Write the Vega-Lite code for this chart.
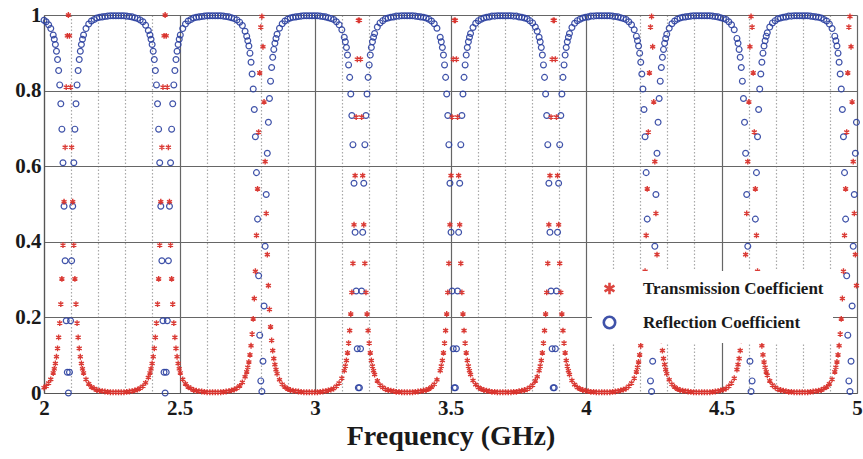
{
"$schema": "https://vega.github.io/schema/vega-lite/v6.json",
"width": 813, "height": 378,
"autosize": {"type": "none"},
"padding": {"left": 44, "top": 15, "right": 6, "bottom": 66},
"background": "white",
"config": {"view": {"stroke": null}, "font": "Liberation Serif"},
"data": {"values": [
{"f":2,"t":0.014,"r":0.986},{"f":2.008,"t":0.018,"r":0.982},{"f":2.017,"t":0.026,"r":0.974},{"f":2.025,"t":0.036,"r":0.964},
{"f":2.034,"t":0.053,"r":0.947},{"f":2.038,"t":0.064,"r":0.936},{"f":2.042,"t":0.078,"r":0.922},{"f":2.046,"t":0.096,"r":0.904},{"f":2.05,"t":0.118,"r":0.882},{"f":2.054,"t":0.147,"r":0.853},{"f":2.058,"t":0.185,"r":0.815},{"f":2.062,"t":0.235,"r":0.765},{"f":2.066,"t":0.302,"r":0.698},{"f":2.07,"t":0.391,"r":0.609},{"f":2.074,"t":0.506,"r":0.494},{"f":2.078,"t":0.65,"r":0.35},{"f":2.082,"t":0.809,"r":0.191},{"f":2.086,"t":0.945,"r":0.055},{"f":2.09,"t":1,"r":0},{"f":2.094,"t":0.945,"r":0.055},{"f":2.098,"t":0.809,"r":0.191},{"f":2.102,"t":0.65,"r":0.35},{"f":2.106,"t":0.506,"r":0.494},{"f":2.11,"t":0.391,"r":0.609},{"f":2.114,"t":0.302,"r":0.698},{"f":2.118,"t":0.235,"r":0.765},{"f":2.122,"t":0.185,"r":0.815},{"f":2.126,"t":0.147,"r":0.853},{"f":2.13,"t":0.118,"r":0.882},{"f":2.134,"t":0.096,"r":0.904},{"f":2.138,"t":0.078,"r":0.922},{"f":2.142,"t":0.064,"r":0.936},{"f":2.146,"t":0.053,"r":0.947},
{"f":2.155,"t":0.036,"r":0.964},{"f":2.165,"t":0.024,"r":0.976},{"f":2.175,"t":0.016,"r":0.984},{"f":2.185,"t":0.012,"r":0.988},{"f":2.195,"t":0.008,"r":0.992},{"f":2.205,"t":0.006,"r":0.994},{"f":2.215,"t":0.005,"r":0.995},{"f":2.225,"t":0.004,"r":0.996},{"f":2.235,"t":0.003,"r":0.997},{"f":2.245,"t":0.002,"r":0.998},{"f":2.255,"t":0.002,"r":0.998},{"f":2.265,"t":0.002,"r":0.998},{"f":2.275,"t":0.002,"r":0.998},{"f":2.285,"t":0.002,"r":0.998},{"f":2.295,"t":0.002,"r":0.998},{"f":2.305,"t":0.003,"r":0.997},{"f":2.315,"t":0.004,"r":0.996},{"f":2.325,"t":0.005,"r":0.995},{"f":2.335,"t":0.007,"r":0.993},{"f":2.345,"t":0.009,"r":0.991},{"f":2.355,"t":0.013,"r":0.987},{"f":2.365,"t":0.018,"r":0.982},{"f":2.375,"t":0.027,"r":0.973},{"f":2.385,"t":0.041,"r":0.959},
{"f":2.391,"t":0.053,"r":0.947},{"f":2.395,"t":0.064,"r":0.936},{"f":2.399,"t":0.078,"r":0.922},{"f":2.403,"t":0.096,"r":0.904},{"f":2.407,"t":0.118,"r":0.882},{"f":2.411,"t":0.147,"r":0.853},{"f":2.415,"t":0.185,"r":0.815},{"f":2.419,"t":0.235,"r":0.765},{"f":2.423,"t":0.302,"r":0.698},{"f":2.427,"t":0.391,"r":0.609},{"f":2.431,"t":0.506,"r":0.494},{"f":2.435,"t":0.65,"r":0.35},{"f":2.439,"t":0.809,"r":0.191},{"f":2.443,"t":0.945,"r":0.055},{"f":2.447,"t":1,"r":0},{"f":2.451,"t":0.945,"r":0.055},{"f":2.455,"t":0.809,"r":0.191},{"f":2.459,"t":0.65,"r":0.35},{"f":2.463,"t":0.506,"r":0.494},{"f":2.467,"t":0.391,"r":0.609},{"f":2.471,"t":0.302,"r":0.698},{"f":2.475,"t":0.235,"r":0.765},{"f":2.479,"t":0.185,"r":0.815},{"f":2.483,"t":0.147,"r":0.853},{"f":2.487,"t":0.118,"r":0.882},{"f":2.491,"t":0.096,"r":0.904},{"f":2.495,"t":0.078,"r":0.922},{"f":2.499,"t":0.064,"r":0.936},{"f":2.503,"t":0.053,"r":0.947},
{"f":2.512,"t":0.036,"r":0.964},{"f":2.522,"t":0.024,"r":0.976},{"f":2.532,"t":0.016,"r":0.984},{"f":2.542,"t":0.012,"r":0.988},{"f":2.552,"t":0.008,"r":0.992},{"f":2.562,"t":0.006,"r":0.994},{"f":2.572,"t":0.005,"r":0.995},{"f":2.582,"t":0.004,"r":0.996},{"f":2.592,"t":0.003,"r":0.997},{"f":2.602,"t":0.002,"r":0.998},{"f":2.612,"t":0.002,"r":0.998},{"f":2.622,"t":0.002,"r":0.998},{"f":2.632,"t":0.002,"r":0.998},{"f":2.642,"t":0.002,"r":0.998},{"f":2.652,"t":0.002,"r":0.998},{"f":2.662,"t":0.003,"r":0.997},{"f":2.672,"t":0.004,"r":0.996},{"f":2.682,"t":0.005,"r":0.995},{"f":2.692,"t":0.007,"r":0.993},{"f":2.702,"t":0.009,"r":0.991},{"f":2.712,"t":0.013,"r":0.987},{"f":2.722,"t":0.019,"r":0.981},{"f":2.732,"t":0.028,"r":0.972},{"f":2.742,"t":0.043,"r":0.957},
{"f":2.748,"t":0.056,"r":0.944},{"f":2.752,"t":0.068,"r":0.932},{"f":2.756,"t":0.082,"r":0.918},{"f":2.76,"t":0.101,"r":0.899},{"f":2.764,"t":0.125,"r":0.875},{"f":2.768,"t":0.156,"r":0.844},{"f":2.772,"t":0.196,"r":0.804},{"f":2.776,"t":0.25,"r":0.75},{"f":2.78,"t":0.322,"r":0.678},{"f":2.784,"t":0.417,"r":0.583},{"f":2.788,"t":0.54,"r":0.46},{"f":2.792,"t":0.69,"r":0.31},{"f":2.796,"t":0.847,"r":0.153},{"f":2.8,"t":0.968,"r":0.032},{"f":2.804,"t":0.996,"r":0.004},{"f":2.808,"t":0.916,"r":0.084},{"f":2.812,"t":0.77,"r":0.23},{"f":2.816,"t":0.612,"r":0.388},{"f":2.82,"t":0.475,"r":0.525},{"f":2.824,"t":0.366,"r":0.634},{"f":2.828,"t":0.284,"r":0.716},{"f":2.832,"t":0.221,"r":0.779},{"f":2.836,"t":0.175,"r":0.825},{"f":2.84,"t":0.139,"r":0.861},{"f":2.844,"t":0.112,"r":0.888},{"f":2.848,"t":0.091,"r":0.909},{"f":2.852,"t":0.075,"r":0.925},{"f":2.856,"t":0.062,"r":0.938},{"f":2.86,"t":0.051,"r":0.949},
{"f":2.869,"t":0.035,"r":0.965},{"f":2.879,"t":0.023,"r":0.977},{"f":2.889,"t":0.016,"r":0.984},{"f":2.899,"t":0.011,"r":0.989},{"f":2.909,"t":0.008,"r":0.992},{"f":2.919,"t":0.006,"r":0.994},{"f":2.929,"t":0.005,"r":0.995},{"f":2.939,"t":0.004,"r":0.996},{"f":2.949,"t":0.003,"r":0.997},{"f":2.959,"t":0.002,"r":0.998},{"f":2.969,"t":0.002,"r":0.998},{"f":2.979,"t":0.002,"r":0.998},{"f":2.989,"t":0.002,"r":0.998},{"f":2.999,"t":0.002,"r":0.998},{"f":3.009,"t":0.002,"r":0.998},{"f":3.019,"t":0.003,"r":0.997},{"f":3.029,"t":0.004,"r":0.996},{"f":3.039,"t":0.005,"r":0.995},{"f":3.049,"t":0.007,"r":0.993},{"f":3.059,"t":0.009,"r":0.991},{"f":3.069,"t":0.012,"r":0.988},{"f":3.079,"t":0.018,"r":0.982},{"f":3.089,"t":0.026,"r":0.974},{"f":3.099,"t":0.039,"r":0.961},
{"f":3.108,"t":0.059,"r":0.941},{"f":3.112,"t":0.071,"r":0.929},{"f":3.116,"t":0.086,"r":0.914},{"f":3.12,"t":0.106,"r":0.894},{"f":3.124,"t":0.132,"r":0.868},{"f":3.128,"t":0.165,"r":0.835},{"f":3.132,"t":0.209,"r":0.791},{"f":3.136,"t":0.266,"r":0.734},{"f":3.14,"t":0.343,"r":0.657},{"f":3.144,"t":0.445,"r":0.555},{"f":3.148,"t":0.575,"r":0.425},{"f":3.152,"t":0.73,"r":0.27},{"f":3.156,"t":0.883,"r":0.117},{"f":3.16,"t":0.986,"r":0.014},{"f":3.164,"t":0.986,"r":0.014},{"f":3.168,"t":0.883,"r":0.117},{"f":3.172,"t":0.73,"r":0.27},{"f":3.176,"t":0.575,"r":0.425},{"f":3.18,"t":0.445,"r":0.555},{"f":3.184,"t":0.343,"r":0.657},{"f":3.188,"t":0.266,"r":0.734},{"f":3.192,"t":0.209,"r":0.791},{"f":3.196,"t":0.165,"r":0.835},{"f":3.2,"t":0.132,"r":0.868},{"f":3.204,"t":0.106,"r":0.894},{"f":3.208,"t":0.086,"r":0.914},{"f":3.212,"t":0.071,"r":0.929},{"f":3.216,"t":0.059,"r":0.941},{"f":3.22,"t":0.049,"r":0.951},
{"f":3.23,"t":0.032,"r":0.968},{"f":3.24,"t":0.021,"r":0.979},{"f":3.25,"t":0.015,"r":0.985},{"f":3.26,"t":0.01,"r":0.99},{"f":3.27,"t":0.008,"r":0.992},{"f":3.28,"t":0.006,"r":0.994},{"f":3.29,"t":0.005,"r":0.995},{"f":3.3,"t":0.003,"r":0.997},{"f":3.31,"t":0.003,"r":0.997},{"f":3.32,"t":0.002,"r":0.998},{"f":3.33,"t":0.002,"r":0.998},{"f":3.34,"t":0.002,"r":0.998},{"f":3.35,"t":0.002,"r":0.998},{"f":3.36,"t":0.002,"r":0.998},{"f":3.37,"t":0.003,"r":0.997},{"f":3.38,"t":0.004,"r":0.996},{"f":3.39,"t":0.005,"r":0.995},{"f":3.4,"t":0.006,"r":0.994},{"f":3.41,"t":0.008,"r":0.992},{"f":3.42,"t":0.011,"r":0.989},{"f":3.43,"t":0.016,"r":0.984},{"f":3.44,"t":0.023,"r":0.977},{"f":3.45,"t":0.035,"r":0.965},
{"f":3.462,"t":0.059,"r":0.941},{"f":3.466,"t":0.071,"r":0.929},{"f":3.47,"t":0.086,"r":0.914},{"f":3.474,"t":0.106,"r":0.894},{"f":3.478,"t":0.132,"r":0.868},{"f":3.482,"t":0.165,"r":0.835},{"f":3.486,"t":0.209,"r":0.791},{"f":3.49,"t":0.266,"r":0.734},{"f":3.494,"t":0.343,"r":0.657},{"f":3.498,"t":0.445,"r":0.555},{"f":3.502,"t":0.575,"r":0.425},{"f":3.506,"t":0.73,"r":0.27},{"f":3.51,"t":0.883,"r":0.117},{"f":3.514,"t":0.986,"r":0.014},{"f":3.518,"t":0.986,"r":0.014},{"f":3.522,"t":0.883,"r":0.117},{"f":3.526,"t":0.73,"r":0.27},{"f":3.53,"t":0.575,"r":0.425},{"f":3.534,"t":0.445,"r":0.555},{"f":3.538,"t":0.343,"r":0.657},{"f":3.542,"t":0.266,"r":0.734},{"f":3.546,"t":0.209,"r":0.791},{"f":3.55,"t":0.165,"r":0.835},{"f":3.554,"t":0.132,"r":0.868},{"f":3.558,"t":0.106,"r":0.894},{"f":3.562,"t":0.086,"r":0.914},{"f":3.566,"t":0.071,"r":0.929},{"f":3.57,"t":0.059,"r":0.941},{"f":3.574,"t":0.049,"r":0.951},
{"f":3.583,"t":0.033,"r":0.967},{"f":3.593,"t":0.022,"r":0.978},{"f":3.603,"t":0.015,"r":0.985},{"f":3.613,"t":0.011,"r":0.989},{"f":3.623,"t":0.008,"r":0.992},{"f":3.633,"t":0.006,"r":0.994},{"f":3.643,"t":0.005,"r":0.995},{"f":3.653,"t":0.003,"r":0.997},{"f":3.663,"t":0.003,"r":0.997},{"f":3.673,"t":0.002,"r":0.998},{"f":3.683,"t":0.002,"r":0.998},{"f":3.693,"t":0.002,"r":0.998},{"f":3.703,"t":0.002,"r":0.998},{"f":3.713,"t":0.002,"r":0.998},{"f":3.723,"t":0.002,"r":0.998},{"f":3.733,"t":0.003,"r":0.997},{"f":3.743,"t":0.003,"r":0.997},{"f":3.753,"t":0.005,"r":0.995},{"f":3.763,"t":0.006,"r":0.994},{"f":3.773,"t":0.008,"r":0.992},{"f":3.783,"t":0.01,"r":0.99},{"f":3.793,"t":0.015,"r":0.985},{"f":3.803,"t":0.021,"r":0.979},{"f":3.813,"t":0.032,"r":0.968},{"f":3.82,"t":0.043,"r":0.957},
{"f":3.827,"t":0.059,"r":0.941},{"f":3.831,"t":0.071,"r":0.929},{"f":3.835,"t":0.086,"r":0.914},{"f":3.839,"t":0.106,"r":0.894},{"f":3.843,"t":0.132,"r":0.868},{"f":3.847,"t":0.165,"r":0.835},{"f":3.851,"t":0.209,"r":0.791},{"f":3.855,"t":0.266,"r":0.734},{"f":3.859,"t":0.343,"r":0.657},{"f":3.863,"t":0.445,"r":0.555},{"f":3.867,"t":0.575,"r":0.425},{"f":3.871,"t":0.73,"r":0.27},{"f":3.875,"t":0.883,"r":0.117},{"f":3.879,"t":0.986,"r":0.014},{"f":3.883,"t":0.986,"r":0.014},{"f":3.887,"t":0.883,"r":0.117},{"f":3.891,"t":0.73,"r":0.27},{"f":3.895,"t":0.575,"r":0.425},{"f":3.899,"t":0.445,"r":0.555},{"f":3.903,"t":0.343,"r":0.657},{"f":3.907,"t":0.266,"r":0.734},{"f":3.911,"t":0.209,"r":0.791},{"f":3.915,"t":0.165,"r":0.835},{"f":3.919,"t":0.132,"r":0.868},{"f":3.923,"t":0.106,"r":0.894},{"f":3.927,"t":0.086,"r":0.914},{"f":3.931,"t":0.071,"r":0.929},{"f":3.935,"t":0.059,"r":0.941},{"f":3.939,"t":0.049,"r":0.951},
{"f":3.948,"t":0.033,"r":0.967},{"f":3.958,"t":0.022,"r":0.978},{"f":3.968,"t":0.015,"r":0.985},{"f":3.978,"t":0.011,"r":0.989},{"f":3.988,"t":0.008,"r":0.992},{"f":3.998,"t":0.006,"r":0.994},{"f":4.008,"t":0.005,"r":0.995},{"f":4.018,"t":0.003,"r":0.997},{"f":4.028,"t":0.003,"r":0.997},{"f":4.038,"t":0.002,"r":0.998},{"f":4.048,"t":0.002,"r":0.998},{"f":4.058,"t":0.002,"r":0.998},{"f":4.068,"t":0.002,"r":0.998},{"f":4.078,"t":0.002,"r":0.998},{"f":4.088,"t":0.002,"r":0.998},{"f":4.098,"t":0.003,"r":0.997},{"f":4.108,"t":0.004,"r":0.996},{"f":4.118,"t":0.005,"r":0.995},{"f":4.128,"t":0.007,"r":0.993},{"f":4.138,"t":0.009,"r":0.991},{"f":4.148,"t":0.012,"r":0.988},{"f":4.158,"t":0.018,"r":0.982},{"f":4.168,"t":0.026,"r":0.974},{"f":4.178,"t":0.039,"r":0.961},
{"f":4.186,"t":0.056,"r":0.944},{"f":4.19,"t":0.068,"r":0.932},{"f":4.194,"t":0.082,"r":0.918},{"f":4.198,"t":0.101,"r":0.899},{"f":4.202,"t":0.125,"r":0.875},{"f":4.206,"t":0.156,"r":0.844},{"f":4.21,"t":0.196,"r":0.804},{"f":4.214,"t":0.25,"r":0.75},{"f":4.218,"t":0.322,"r":0.678},{"f":4.222,"t":0.417,"r":0.583},{"f":4.226,"t":0.54,"r":0.46},{"f":4.23,"t":0.69,"r":0.31},{"f":4.234,"t":0.847,"r":0.153},{"f":4.238,"t":0.968,"r":0.032},{"f":4.242,"t":0.996,"r":0.004},{"f":4.246,"t":0.916,"r":0.084},{"f":4.25,"t":0.77,"r":0.23},{"f":4.254,"t":0.612,"r":0.388},{"f":4.258,"t":0.475,"r":0.525},{"f":4.262,"t":0.366,"r":0.634},{"f":4.266,"t":0.284,"r":0.716},{"f":4.27,"t":0.221,"r":0.779},{"f":4.274,"t":0.175,"r":0.825},{"f":4.278,"t":0.139,"r":0.861},{"f":4.282,"t":0.112,"r":0.888},{"f":4.286,"t":0.091,"r":0.909},{"f":4.29,"t":0.075,"r":0.925},{"f":4.294,"t":0.062,"r":0.938},{"f":4.298,"t":0.051,"r":0.949},
{"f":4.307,"t":0.035,"r":0.965},{"f":4.317,"t":0.023,"r":0.977},{"f":4.327,"t":0.016,"r":0.984},{"f":4.337,"t":0.011,"r":0.989},{"f":4.347,"t":0.008,"r":0.992},{"f":4.357,"t":0.006,"r":0.994},{"f":4.367,"t":0.005,"r":0.995},{"f":4.377,"t":0.004,"r":0.996},{"f":4.387,"t":0.003,"r":0.997},{"f":4.397,"t":0.002,"r":0.998},{"f":4.407,"t":0.002,"r":0.998},{"f":4.417,"t":0.002,"r":0.998},{"f":4.427,"t":0.002,"r":0.998},{"f":4.437,"t":0.002,"r":0.998},{"f":4.447,"t":0.002,"r":0.998},{"f":4.457,"t":0.002,"r":0.998},{"f":4.467,"t":0.003,"r":0.997},{"f":4.477,"t":0.004,"r":0.996},{"f":4.487,"t":0.005,"r":0.995},{"f":4.497,"t":0.007,"r":0.993},{"f":4.507,"t":0.009,"r":0.991},{"f":4.517,"t":0.012,"r":0.988},{"f":4.527,"t":0.018,"r":0.982},{"f":4.537,"t":0.026,"r":0.974},{"f":4.547,"t":0.039,"r":0.961},
{"f":4.557,"t":0.062,"r":0.938},{"f":4.561,"t":0.075,"r":0.925},{"f":4.565,"t":0.091,"r":0.909},{"f":4.569,"t":0.112,"r":0.888},{"f":4.573,"t":0.139,"r":0.861},{"f":4.577,"t":0.175,"r":0.825},{"f":4.581,"t":0.221,"r":0.779},{"f":4.585,"t":0.284,"r":0.716},{"f":4.589,"t":0.366,"r":0.634},{"f":4.593,"t":0.475,"r":0.525},{"f":4.597,"t":0.612,"r":0.388},{"f":4.601,"t":0.77,"r":0.23},{"f":4.605,"t":0.916,"r":0.084},{"f":4.609,"t":0.996,"r":0.004},{"f":4.613,"t":0.968,"r":0.032},{"f":4.617,"t":0.847,"r":0.153},{"f":4.621,"t":0.69,"r":0.31},{"f":4.625,"t":0.54,"r":0.46},{"f":4.629,"t":0.417,"r":0.583},{"f":4.633,"t":0.322,"r":0.678},{"f":4.637,"t":0.25,"r":0.75},{"f":4.641,"t":0.196,"r":0.804},{"f":4.645,"t":0.156,"r":0.844},{"f":4.649,"t":0.125,"r":0.875},{"f":4.653,"t":0.101,"r":0.899},{"f":4.657,"t":0.082,"r":0.918},{"f":4.661,"t":0.068,"r":0.932},{"f":4.665,"t":0.056,"r":0.944},{"f":4.669,"t":0.047,"r":0.953},
{"f":4.678,"t":0.032,"r":0.968},{"f":4.688,"t":0.021,"r":0.979},{"f":4.698,"t":0.015,"r":0.985},{"f":4.708,"t":0.01,"r":0.99},{"f":4.718,"t":0.008,"r":0.992},{"f":4.728,"t":0.006,"r":0.994},{"f":4.738,"t":0.005,"r":0.995},{"f":4.748,"t":0.003,"r":0.997},{"f":4.758,"t":0.003,"r":0.997},{"f":4.768,"t":0.002,"r":0.998},{"f":4.778,"t":0.002,"r":0.998},{"f":4.788,"t":0.002,"r":0.998},{"f":4.798,"t":0.002,"r":0.998},{"f":4.808,"t":0.002,"r":0.998},{"f":4.818,"t":0.002,"r":0.998},{"f":4.828,"t":0.003,"r":0.997},{"f":4.838,"t":0.004,"r":0.996},{"f":4.848,"t":0.005,"r":0.995},{"f":4.858,"t":0.006,"r":0.994},{"f":4.868,"t":0.008,"r":0.992},{"f":4.878,"t":0.012,"r":0.988},{"f":4.888,"t":0.016,"r":0.984},{"f":4.898,"t":0.024,"r":0.976},{"f":4.908,"t":0.036,"r":0.964},
{"f":4.918,"t":0.056,"r":0.944},{"f":4.922,"t":0.068,"r":0.932},{"f":4.926,"t":0.082,"r":0.918},{"f":4.93,"t":0.101,"r":0.899},{"f":4.934,"t":0.125,"r":0.875},{"f":4.938,"t":0.156,"r":0.844},{"f":4.942,"t":0.196,"r":0.804},{"f":4.946,"t":0.25,"r":0.75},{"f":4.95,"t":0.322,"r":0.678},{"f":4.954,"t":0.417,"r":0.583},{"f":4.958,"t":0.54,"r":0.46},{"f":4.962,"t":0.69,"r":0.31},{"f":4.966,"t":0.847,"r":0.153},{"f":4.97,"t":0.968,"r":0.032},{"f":4.974,"t":0.996,"r":0.004},{"f":4.978,"t":0.916,"r":0.084},{"f":4.982,"t":0.77,"r":0.23},{"f":4.986,"t":0.612,"r":0.388},{"f":4.99,"t":0.475,"r":0.525},{"f":4.994,"t":0.366,"r":0.634},{"f":4.998,"t":0.284,"r":0.716}
]},
"encoding": {
  "x": {"field": "f", "type": "quantitative",
    "scale": {"domain": [2, 5], "nice": false, "zero": false},
    "axis": {"values": [2,2.1,2.2,2.3,2.4,2.5,2.6,2.7,2.8,2.9,3,3.1,3.2,3.3,3.4,3.5,3.6,3.7,3.8,3.9,4,4.1,4.2,4.3,4.4,4.5,4.6,4.7,4.8,4.9,5],
      "format": "~g",
      "labelExpr": "abs(datum.value*2-round(datum.value*2))<0.01 ? datum.label : ''",
      "title": "Frequency (GHz)", "titleFont": "Liberation Serif", "titleFontSize": 28, "titleFontWeight": "bold", "titleColor": "#1a1a1a", "titlePadding": 4,
      "labelFont": "Liberation Serif", "labelFontSize": 21, "labelFontWeight": "bold", "labelColor": "#1a1a1a", "labelPadding": 4, "labelFlush": false, "labelOverlap": false,
      "ticks": false, "domainColor": "#555555", "domainWidth": 1.2,
      "grid": true,
      "gridColor": {"condition": {"test": "abs(datum.value*2-round(datum.value*2))<0.01", "value": "#666666"}, "value": "#a8a8a8"},
      "gridDash": {"condition": {"test": "abs(datum.value*2-round(datum.value*2))<0.01", "value": []}, "value": [1.5, 2]},
      "gridWidth": 1.2, "gridOpacity": 1}}
},
"layer": [
  {"mark": {"type": "point", "filled": false, "size": 34, "strokeWidth": 1.2, "opacity": 0.9},
   "encoding": {
     "y": {"field": "r", "type": "quantitative",
       "scale": {"domain": [0, 1], "nice": false},
       "axis": {"values": [0,0.1,0.2,0.3,0.4,0.5,0.6,0.7,0.8,0.9,1], "format": "~g",
         "labelExpr": "abs(datum.value*5-round(datum.value*5))<0.01 ? datum.label : ''",
         "title": null, "labelFont": "Liberation Serif", "labelFontSize": 21, "labelFontWeight": "bold", "labelColor": "#1a1a1a", "labelPadding": 3, "labelFlush": false, "labelOverlap": false,
         "ticks": false, "domainColor": "#555555", "domainWidth": 1.2, "grid": true,
         "gridColor": {"condition": {"test": "abs(datum.value*5-round(datum.value*5))<0.01", "value": "#666666"}, "value": "#a8a8a8"},
         "gridDash": {"condition": {"test": "abs(datum.value*5-round(datum.value*5))<0.01", "value": []}, "value": [1.5, 2]},
         "gridWidth": 1.2, "gridOpacity": 1}},
     "color": {"datum": "Reflection Coefficient", "type": "nominal",
       "scale": {"domain": ["Transmission Coefficient", "Reflection Coefficient"], "range": ["#d9312b", "#2b40a0"]},
       "legend": {"title": null, "orient": "none", "legendX": 548, "legendY": 256, "direction": "vertical", "fillColor": "white", "padding": 9,
         "labelFont": "Liberation Serif", "labelFontSize": 17, "labelFontWeight": "bold", "labelColor": "#1a1a1a", "labelLimit": 300, "labelOffset": 25,
         "symbolSize": 130, "symbolStrokeWidth": 2.6, "rowPadding": 11}},
     "shape": {"datum": "Reflection Coefficient", "type": "nominal",
       "scale": {"domain": ["Transmission Coefficient", "Reflection Coefficient"], "range": ["M0,-1L0,1M-0.866,-0.5L0.866,0.5M-0.866,0.5L0.866,-0.5", "circle"]}}
   }},
  {"mark": {"type": "point", "filled": false, "size": 34, "strokeWidth": 1.4, "opacity": 0.95},
   "encoding": {
     "y": {"field": "t", "type": "quantitative"},
     "color": {"datum": "Transmission Coefficient", "type": "nominal"},
     "shape": {"datum": "Transmission Coefficient", "type": "nominal"}
   }}
]
}
